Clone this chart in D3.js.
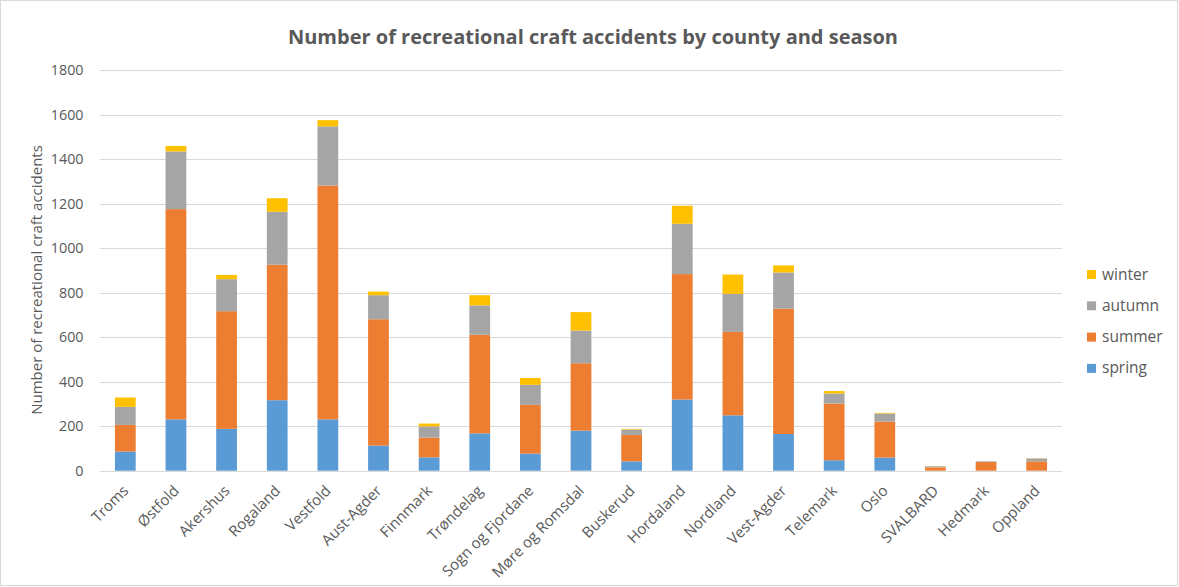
<!DOCTYPE html>
<html><head><meta charset="utf-8">
<script src="https://cdn.jsdelivr.net/npm/d3@7"></script>
<style>body{margin:0;background:#fff;}svg{display:block;}</style>
</head><body>
<svg id="chart" width="1179" height="587"></svg>
<script>
const counties = ["Troms","Østfold","Akershus","Rogaland","Vestfold","Aust-Agder","Finnmark","Trøndelag","Sogn og Fjordane","Møre og Romsdal","Buskerud","Hordaland","Nordland","Vest-Agder","Telemark","Oslo","SVALBARD","Hedmark","Oppland"];
const spring = [86,231,188,317,231,113,60,168,77,180,42,320,249,165,47,59,0,0,0];
const summer = [120,945,529,609,1051,568,89,443,219,303,119,564,375,564,255,162,15,39,42];
const autumn = [81,259,144,238,266,108,50,132,90,147,24,226,171,162,45,36,5,3,13];
const winter = [42,25,19,61,28,16,13,46,31,83,3,81,87,32,11,3,1,0,1];
const seasons = ["spring","summer","autumn","winter"];
const colors = {spring:"#5b9bd5", summer:"#ed7d31", autumn:"#a5a5a5", winter:"#ffc000"};
const yTicks = [0,200,400,600,800,1000,1200,1400,1600,1800];

const rows = counties.map((c,i)=>({county:c, spring:spring[i], summer:summer[i], autumn:autumn[i], winter:winter[i]}));
const stacked = d3.stack().keys(seasons)(rows);

const svg = d3.select("#chart");
const font = "'Open Sans', 'Liberation Sans', sans-serif";
const m = {left:100, right:1062, top:70.3, bottom:470.7};

svg.append("rect").attr("x",0.5).attr("y",0.5).attr("width",1177).attr("height",585)
  .attr("fill","#fff").attr("stroke","#d9d9d9");

const x = d3.scaleBand().domain(counties).range([m.left,m.right]).paddingInner(0.59).paddingOuter(0.295);
const y = d3.scaleLinear().domain([0,1800]).range([m.bottom,m.top]);

// grid
const grid = svg.append("g");
grid.selectAll("line").data(yTicks).join("line")
  .attr("x1",m.left).attr("x2",m.right)
  .attr("y1",d=>Math.round(y(d))+0.5).attr("y2",d=>Math.round(y(d))+0.5)
  .attr("stroke","#d9d9d9").attr("stroke-width",1);

// y axis labels
const yAxis = svg.append("g").attr("transform",`translate(${m.left},0)`)
  .call(d3.axisLeft(y).tickValues(yTicks).tickFormat(d3.format("d")).tickSize(0).tickPadding(16.5));
yAxis.select(".domain").remove();
yAxis.selectAll("text").attr("font-family",font).attr("font-size",14.3).attr("fill","#595959");

// bars
svg.append("g").selectAll("g").data(stacked).join("g")
  .attr("fill",d=>colors[d.key])
  .selectAll("rect").data(d=>d).join("rect")
  .attr("x",d=>x(d.data.county))
  .attr("width",x.bandwidth())
  .attr("y",d=>y(d[1]))
  .attr("height",d=>Math.max(0,y(d[0])-y(d[1])));

// x axis
const xAxis = svg.append("g").attr("transform",`translate(0,${m.bottom})`)
  .call(d3.axisBottom(x).tickSize(0).tickPadding(0));
xAxis.select(".domain").remove();
xAxis.selectAll("text")
  .attr("font-family",font).attr("font-size",15).attr("fill","#595959")
  .attr("text-anchor","end").attr("dy",null).attr("y",0)
  .attr("transform","translate(4,21) rotate(-45)");

// title
svg.append("text").attr("x",593).attr("y",44).attr("text-anchor","middle")
  .attr("font-family",font).attr("font-weight","bold").attr("font-size",20).attr("fill","#595959")
  .text("Number of recreational craft accidents by county and season");

// y title
svg.append("text").attr("transform","translate(42,280) rotate(-90)").attr("text-anchor","middle")
  .attr("font-family",font).attr("font-size",15).attr("fill","#595959")
  .text("Number of recreational craft accidents");

// legend
const legendKeys = ["winter","autumn","summer","spring"];
const lg = svg.append("g");
legendKeys.forEach((k,i)=>{
  const yy = 274 + i*31.3;
  lg.append("rect").attr("x",1087).attr("y",yy-4).attr("width",9).attr("height",9).attr("fill",colors[k]);
  lg.append("text").attr("x",1102).attr("y",yy+5.5).attr("font-family",font).attr("font-size",15.5).attr("fill","#595959").text(k);
});
</script>
</body></html>
